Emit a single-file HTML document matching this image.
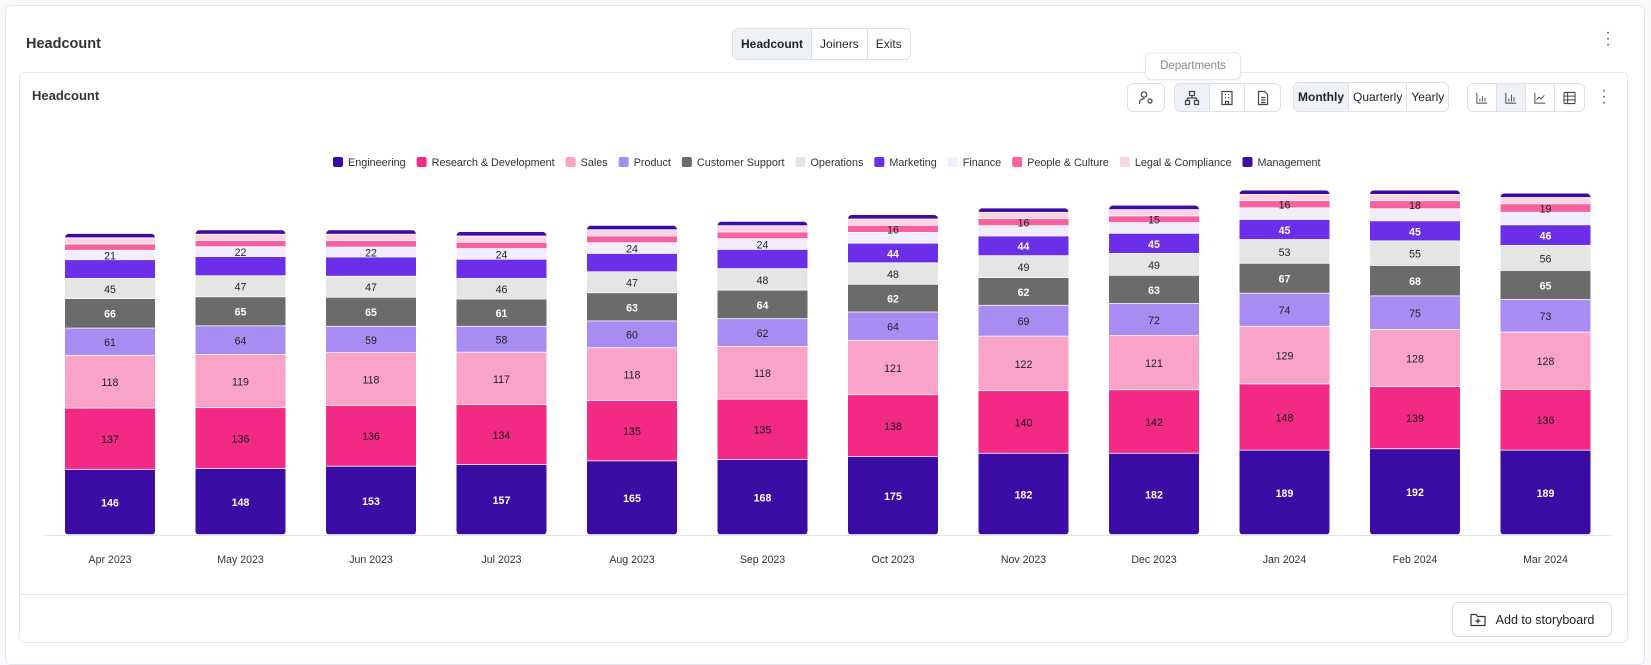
<!DOCTYPE html>
<html><head><meta charset="utf-8">
<style>
*{box-sizing:border-box;margin:0;padding:0}
body{width:1651px;height:652px;background:#f7f9fb;font-family:"Liberation Sans",sans-serif;color:#1f2328;position:relative;overflow:hidden}
.card{position:absolute;left:5px;top:5px;width:1640px;height:660px;background:#fff;border:1px solid #e3e7ec;border-radius:6px}
.abs{position:absolute}
.seg{display:flex;border:1px solid #dde1e6;border-radius:6px;overflow:hidden;background:#fff}
.seg div{padding:0 8px;display:flex;align-items:center;font-size:12px;border-right:1px solid #dde1e6}
.seg div:last-child{border-right:none}
.seg .on{background:#eef2f6;font-weight:bold}
.ib{width:36px;height:28px;display:flex;align-items:center;justify-content:center;border-right:1px solid #dde1e6}
.ib:last-child{border-right:none}
</style></head><body>
<div class="card"></div>
<div class="abs" style="left:26px;top:36px;font-size:14.5px;font-weight:bold;color:#333">Headcount</div>
<div class="abs seg" style="left:732px;top:28px;height:32px">
 <div class="on">Headcount</div>
 <div>Joiners</div>
 <div>Exits</div>
</div>
<div class="abs" style="left:1604px;top:30px;font-size:16px;color:#555;line-height:6px;width:8px;text-align:center">·<br>·<br>·</div>
<div class="abs" style="left:19px;top:72px;width:1609px;height:571px;border:1px solid #e3e7ec;border-radius:6px;background:#fff"></div>
<div class="abs" style="left:32px;top:88px;font-size:13px;font-weight:bold;color:#333">Headcount</div>
<div class="abs" style="left:1145px;top:52px;width:96px;height:28px;border:1px solid #e6e8eb;border-radius:6px;background:#fff;font-size:11.5px;color:#888;display:flex;align-items:center;justify-content:center;box-shadow:0 1px 3px rgba(0,0,0,.06)">Departments</div>
<div class="abs seg" style="left:1127px;top:83px;height:29px"><div class="ib"><svg width="16" height="16" viewBox="0 0 16 16" fill="none" stroke="#444" stroke-width="1.2"><circle cx="6" cy="4.5" r="2.7"/><path d="M1.5 14v-2a4 4 0 0 1 5-3"/><circle cx="12" cy="11" r="2"/></svg></div></div>
<div class="abs seg" style="left:1174px;top:83px;height:29px">
 <div class="ib" style="background:#eef2f6;width:35px"><svg width="16" height="16" viewBox="0 0 16 16" fill="none" stroke="#444" stroke-width="1.2"><rect x="5.5" y="1.5" width="5" height="4"/><rect x="1.5" y="10.5" width="4" height="4"/><rect x="10.5" y="10.5" width="4" height="4"/><path d="M8 5.5v2.5M3.5 10.5V8h9v2.5"/></svg></div>
 <div class="ib" style="width:35px"><svg width="16" height="16" viewBox="0 0 16 16" fill="none" stroke="#444" stroke-width="1.2"><rect x="3" y="1.5" width="10" height="13"/><path d="M6.5 14.5v-3h3v3M6 4.5h1M9 4.5h1M6 7.5h1M9 7.5h1"/></svg></div>
 <div class="ib" style="width:35px"><svg width="16" height="16" viewBox="0 0 16 16" fill="none" stroke="#444" stroke-width="1.2"><path d="M3.5 1.5h6l3 3v10h-9z"/><path d="M6 7.5h4.5M6 10h4.5M6 12.5h4.5"/></svg></div>
</div>
<div class="abs seg" style="left:1293px;top:82px;height:30px">
 <div class="on" style="padding:0 4px">Monthly</div>
 <div style="padding:0 4px">Quarterly</div>
 <div style="padding:0 4px">Yearly</div>
</div>
<div class="abs seg" style="left:1467px;top:83px;height:29px">
 <div class="ib" style="width:29px"><svg width="16" height="16" viewBox="0 0 14 14" fill="none" stroke="#444" stroke-width="1.1"><path d="M1 1v12h12M4.5 11V8M7.5 11V5M10.5 11V7"/></svg></div>
 <div class="ib" style="width:29px;background:#eef2f6"><svg width="16" height="16" viewBox="0 0 14 14" fill="none" stroke="#444" stroke-width="1.1"><path d="M1 1v12h12M4.5 11V8M7.5 11V3M10.5 11V6"/></svg></div>
 <div class="ib" style="width:29px"><svg width="16" height="16" viewBox="0 0 14 14" fill="none" stroke="#444" stroke-width="1.1"><path d="M1 1v12h12M3 9l3-3 2 2 4-4"/></svg></div>
 <div class="ib" style="width:29px"><svg width="16" height="16" viewBox="0 0 14 14" fill="none" stroke="#444" stroke-width="1.1"><rect x="1" y="1" width="12" height="12" rx="1"/><path d="M1 5h12M1 9h12M5 1v12"/></svg></div>
</div>
<div class="abs" style="left:1600px;top:88px;font-size:16px;color:#555;line-height:6px;width:8px;text-align:center">·<br>·<br>·</div>
<div class="abs" style="left:20px;top:594px;width:1607px;height:1px;background:#e3e7ec"></div>
<div class="abs" style="left:1452px;top:602px;width:160px;height:35px;border:1px solid #d9dde2;border-radius:6px;display:flex;align-items:center;justify-content:center;gap:10px;font-size:12.5px;color:#222;background:#fff"><svg width="16" height="14" viewBox="0 0 16 14" fill="none" stroke="#333" stroke-width="1.2"><path d="M1 2.5v10h14v-9H7.5L6 1.5H1z"/><path d="M8 5.5v5M5.5 8h5"/></svg>Add to storyboard</div>
<svg id="chart" class="abs" style="left:0;top:0" width="1651" height="652"></svg>
<script>
const categories=["Apr 2023","May 2023","Jun 2023","Jul 2023","Aug 2023","Sep 2023","Oct 2023","Nov 2023","Dec 2023","Jan 2024","Feb 2024","Mar 2024"];
const seriesNames=["Engineering","Research & Development","Sales","Product","Customer Support","Operations","Marketing","Finance","People & Culture","Legal & Compliance","Management"];
const engineering=[146,148,153,157,165,168,175,182,182,189,192,189];
const research=[137,136,136,134,135,135,138,140,142,148,139,136];
const sales=[118,119,118,117,118,118,121,122,121,129,128,128];
const product=[61,64,59,58,60,62,64,69,72,74,75,73];
const support=[66,65,65,61,63,64,62,62,63,67,68,65];
const operations=[45,47,47,46,47,48,48,49,49,53,55,56];
const marketing=[42,43,43,43,41,43,44,44,45,45,45,46];
const finance=[21,22,22,24,24,24,24,23,24,26,27,28];
const peopleCulture=[14,14,15,14,15,15,16,16,15,16,18,19];
const legal=[14,14,14,14,14,14,14,14,14,14,14,14];
const management=[10,10,10,10,10,10,10,10,10,10,10,10];
const series=[engineering,research,sales,product,support,operations,marketing,finance,peopleCulture,legal,management];
const colors=["#3a0ca3","#f22a86","#f8a3c7","#a98cf1","#6b6b6b","#e5e5e5","#6b2ee9","#f1edfc","#f7619f","#fbd4e4","#3a0ca3"];
const textCol=["#fff","#111","#222","#222","#fff","#222","#fff","#222","#222","#222","#fff"];
const bold=[1,0,0,0,1,0,1,0,0,0,0];
const NS="http://www.w3.org/2000/svg";
const svg=document.getElementById('chart');
const base=535, unit=0.447, x0=110, step=130.5, bw=90;
function y(v){return base-v*unit;}
function xc(i){return x0+i*step;}
function mk(t,a){const e=document.createElementNS(NS,t);for(const k in a)e.setAttribute(k,a[k]);svg.appendChild(e);return e;}
function showLabel(k,i){
  const v=series[k][i];
  if(k<6)return true;
  if(k===6)return v>=44;
  if(k===7)return i<6;
  if(k===8)return i>=6;
  return false;
}
const ax=mk('line',{x1:45,x2:1611,y1:base+0.5,y2:base+0.5,stroke:'#e3e3e3'});


let lx=333;
seriesNames.forEach((n,s)=>{
  const r=mk('rect',{x:lx,y:157,width:10,height:10,rx:2,fill:colors[s]});
  
  
  const t=mk('text',{x:lx+15,y:166,'font-size':10.8,fill:'#333','font-family':'Liberation Sans'});
  t.textContent=n;
  
  
  lx+=15+t.getComputedTextLength()+11;
});
const labels=[];
categories.forEach((c,i)=>{
  let cum=0;
  const tot=series.reduce((a,s)=>a+s[i],0);
  const clipId='c'+i;
  const cp=document.createElementNS(NS,'clipPath');cp.setAttribute('id',clipId);
  const cr=document.createElementNS(NS,'rect');
  cr.setAttribute('x',xc(i)-bw/2);cr.setAttribute('y',y(tot));cr.setAttribute('width',bw);cr.setAttribute('height',tot*unit);cr.setAttribute('rx',4);
  cp.appendChild(cr);svg.appendChild(cp);
  const g=mk('g',{});
  
  
  g.setAttribute('clip-path','url(#'+clipId+')');
  series.forEach((s,k)=>{
    const v=s[i];
    const r=document.createElementNS(NS,'rect');
    r.setAttribute('x',xc(i)-bw/2);r.setAttribute('y',y(cum+v));r.setAttribute('width',bw);r.setAttribute('height',v*unit-0.8);r.setAttribute('fill',colors[k]);
    
    
    g.appendChild(r);
    if(showLabel(k,i)){
      labels.push({x:xc(i),y:y(cum+v/2)+4,v:v,k:k});
    }
    cum+=v;
  });
  const xl=mk('text',{x:xc(i),y:563,'text-anchor':'middle','font-size':10.6,fill:'#333','font-family':'Liberation Sans'});
  xl.textContent=c;
  
  
});
labels.forEach(l=>{
  const t=mk('text',{x:l.x,y:l.y,'text-anchor':'middle','font-size':10.6,fill:textCol[l.k],'font-family':'Liberation Sans'});
  if(bold[l.k])t.setAttribute('font-weight','bold');
  t.textContent=l.v;
  
  
});
</script>
</body></html>
